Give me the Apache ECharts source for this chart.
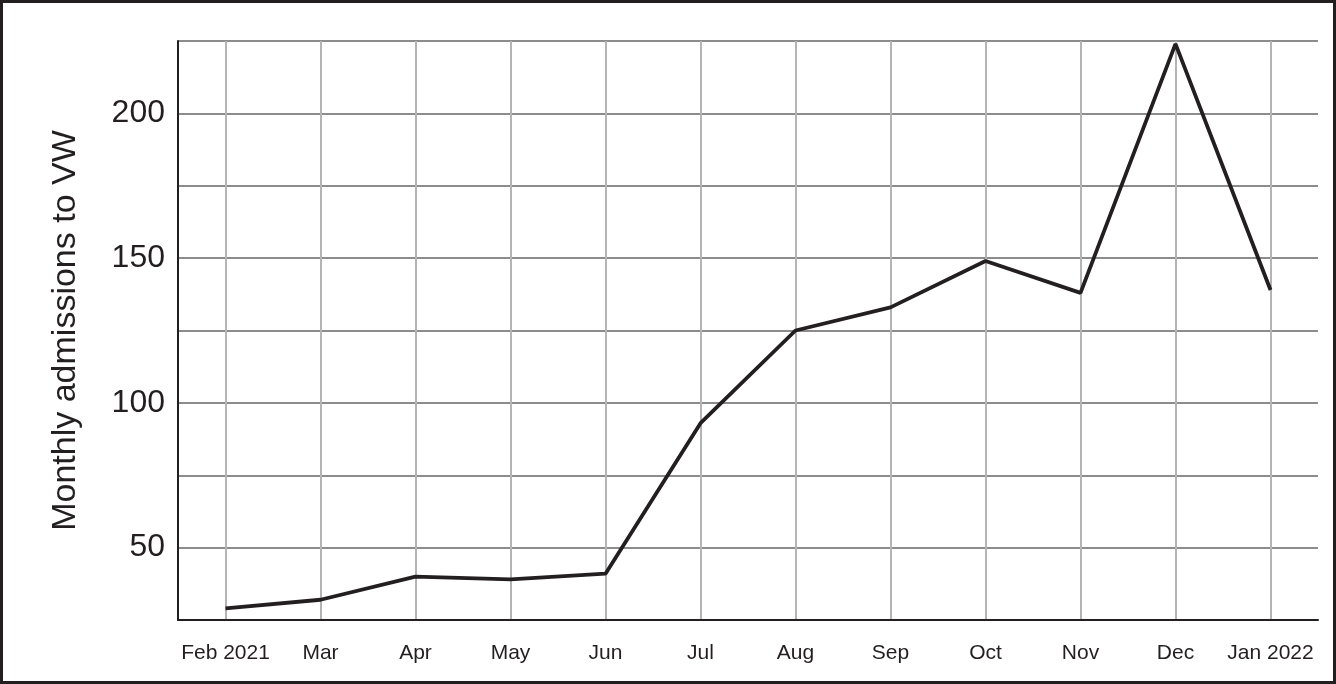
<!DOCTYPE html>
<html>
<head>
<meta charset="utf-8">
<script src="https://cdn.jsdelivr.net/npm/echarts@6/dist/echarts.min.js"></script>
<style>
html,body{margin:0;padding:0;background:#fff;}
#frame{position:absolute;left:0;top:0;width:1336px;height:684px;box-sizing:border-box;border:3px solid #231f20;}
#chart{position:absolute;left:0;top:0;width:1336px;height:684px;}
</style>
</head>
<body>
<div id="chart"></div>
<div id="frame"></div>
<script>
const months = ['Feb 2021','Mar','Apr','May','Jun','Jul','Aug','Sep','Oct','Nov','Dec','Jan 2022'];
const admissions = [29, 32, 40, 39, 41, 93, 125, 133, 149, 138, 224, 139];
const yTickLabels = [50, 100, 150, 200];

const chart = echarts.init(document.getElementById('chart'));
const font = '"Liberation Sans", Arial, sans-serif';
chart.setOption({
  animation: false,
  grid: {left: 178, right: 18, top: 41, bottom: 64, containLabel: false},
  xAxis: {
    type: 'category',
    data: months,
    boundaryGap: true,
    axisLine: {show: true, lineStyle: {color: '#231f20', width: 2}},
    axisTick: {show: false, alignWithLabel: true},
    axisLabel: {color: '#231f20', fontSize: 21, fontFamily: font, margin: 23, interval: 0},
    splitLine: {show: true, alignWithLabel: true, lineStyle: {color: '#b4b4b4', width: 2}}
  },
  yAxis: {
    type: 'value',
    min: 25, max: 225, interval: 25,
    name: 'Monthly admissions to VW',
    nameLocation: 'middle',
    nameGap: 95,
    nameTextStyle: {color: '#231f20', fontSize: 34, fontFamily: font},
    axisLine: {show: true, lineStyle: {color: '#231f20', width: 2}},
    axisTick: {show: false},
    axisLabel: {
      color: '#231f20', fontSize: 32, fontFamily: font, margin: 13,
      formatter: v => yTickLabels.indexOf(v) >= 0 ? String(v) : ''
    },
    splitLine: {show: true, lineStyle: {color: '#8c8c8c', width: 2}}
  },
  series: [{
    type: 'line',
    data: admissions,
    showSymbol: false,
    lineStyle: {color: '#231f20', width: 3.8},
    z: 5
  }]
});
</script>
</body>
</html>
